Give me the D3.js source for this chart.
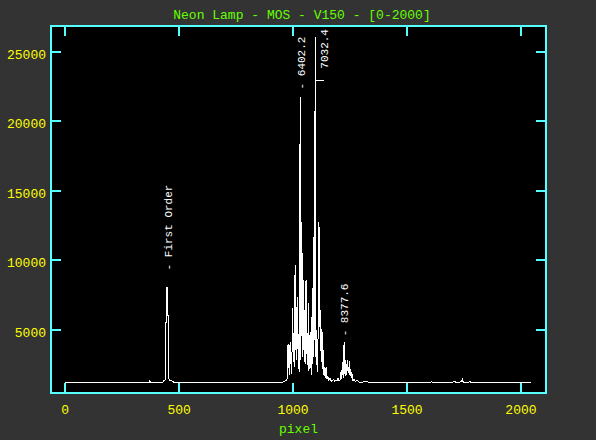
<!DOCTYPE html>
<html lang="en">
<head>
  <meta charset="utf-8" />
  <title>Neon Lamp - MOS - V150</title>
  <script src="https://cdn.jsdelivr.net/npm/d3@7"></script>
  <style>
body{
  margin: 0;
  background: #333333;
}
svg text{
  font-family: "Liberation Mono", "DejaVu Sans Mono", monospace;
}
  </style>
</head>
<body>
  <svg id="chart"></svg>
  <script>
  const title = 'Neon Lamp - MOS - V150 - [0-2000]';
  const xLabel = 'pixel';
  const xTicks = [0, 500, 1000, 1500, 2000];
  const yTicks = [5000, 10000, 15000, 20000, 25000];

  // extracted arc spectrum (pixel, counts)
  const pixels = [
    0, 370, 373, 377, 430, 436, 441, 443, 447, 448, 451, 452, 456, 457, 462, 475, 480,
    950, 958, 968, 975, 978, 980, 982, 984, 986, 989, 991, 993, 995, 998,
    1001, 1003, 1005, 1008, 1011, 1013, 1015, 1017, 1020, 1022, 1024, 1026, 1029, 1031,
    1033, 1035, 1038, 1040, 1042, 1044, 1046, 1048, 1051, 1053, 1055, 1057, 1059, 1061,
    1064, 1066, 1070, 1072, 1075, 1077, 1079, 1082, 1084, 1086, 1088, 1090, 1092, 1095,
    1097, 1099, 1101, 1104, 1106, 1109, 1111, 1114, 1116, 1119, 1121, 1124, 1126, 1129,
    1131, 1134, 1136, 1140, 1143, 1147, 1150, 1155, 1158, 1165, 1170, 1180, 1185, 1195,
    1200, 1204, 1210, 1213, 1216, 1220, 1222, 1226, 1228, 1231, 1233, 1236, 1238, 1241,
    1243, 1246, 1248, 1251, 1253, 1256, 1259, 1262, 1265, 1270, 1275, 1285, 1290, 1300,
    1320, 1340, 1600, 1610, 1618, 1640, 1650, 1700, 1710, 1720, 1740, 1745, 1748, 1760,
    1780, 1785, 2045
  ];
  const counts = [
    1150, 1150, 1260, 1150, 1160, 1300, 1350, 5500, 5500, 8000, 8000, 6000, 6000, 1400, 1300, 1250, 1150,
    1150, 1180, 1280, 1300, 1900, 3900, 2200, 3700, 1700, 4070, 2500, 3000, 1800, 3600,
    6490, 2600, 4200, 2300, 9585, 3500, 5150, 2800, 7300, 3600, 4500, 2100, 5400, 1900,
    21690, 2800, 12700, 4500, 10500, 3000, 8500, 3500, 6000, 2600, 7200, 2500, 8500, 3200,
    4690, 2400, 6850, 2000, 3800, 4800, 2200, 3500, 1700, 7930, 2500, 8025, 3000, 15340,
    4200, 25985, 3000, 4910, 2400, 3400, 1900, 12700, 5000, 12340, 3400, 6350, 2600, 4980,
    2100, 3470, 1700, 2270, 1500, 2270, 1400, 1600, 1300, 1450, 1250, 1350, 1250, 1300,
    1460, 1250, 1350, 2030, 1400, 2600, 1500, 4070, 1800, 2750, 1600, 2500, 1700, 2750,
    2000, 2300, 1700, 2700, 1600, 2000, 1500, 1750, 1300, 1400, 1250, 1300, 1200, 1150,
    1250, 1150, 1150, 1200, 1150, 1180, 1150, 1150, 1230, 1150, 1200, 1380, 1200, 1150,
    1200, 1150, 1150
  ];

  // line identifications
  const lineLabels = ['- First Order', '- 6402.2', '7032.4', '- 8377.6'];
  const linePixels = [455, 1036, 1140, 1226];
  const lineLevels = [9220, 22240, 23730, 4475];
  // leader from the 7032.4 peak over to its label
  const leaderPixels = [1099, 1140];
  const leaderLevel = 22900;

  var width = 596, height = 440;
  var frame = {left: 51, right: 546, top: 26, bottom: 393};
  var cyan = '#55ffff', yellow = '#ffff00', green = '#66ff00';

  var svg = d3.select('#chart')
      .attr('width', width)
      .attr('height', height);

  var x = d3.scaleLinear().domain([-60, 2112]).range([frame.left, frame.right]);
  var y = d3.scaleLinear().domain([400, 26800]).range([frame.bottom, frame.top]);

  svg.append('rect')
      .attr('x', frame.left)
      .attr('y', frame.top)
      .attr('width', frame.right - frame.left)
      .attr('height', frame.bottom - frame.top)
      .attr('fill', '#000');

  var spectrum = pixels.map((p, i) => [p, counts[i]]);

  svg.append('path')
      .datum(spectrum)
      .attr('fill', 'none')
      .attr('stroke', '#fff')
      .attr('stroke-width', 1)
      .attr('shape-rendering', 'crispEdges')
      .attr('d', d3.line().x(d => x(d[0])).y(d => y(d[1])));

  function styleAxis(g){
    g.select('.domain').remove();
    g.selectAll('.tick line')
        .attr('stroke', cyan)
        .attr('stroke-width', 2)
        .attr('shape-rendering', 'crispEdges');
    g.selectAll('.tick text')
        .attr('fill', yellow)
        .attr('font-size', 13)
        .attr('font-family', null);
    g.attr('font-family', null).attr('font-size', null);
  }

  svg.append('g')
      .attr('transform', `translate(0,${frame.bottom})`)
      .call(d3.axisBottom(x).tickValues(xTicks).tickSize(-10).tickPadding(12).tickFormat(d3.format('d')))
      .call(styleAxis);

  svg.append('g')
      .attr('transform', `translate(0,${frame.top})`)
      .call(d3.axisTop(x).tickValues(xTicks).tickSize(-10).tickFormat(''))
      .call(styleAxis);

  svg.append('g')
      .attr('transform', `translate(${frame.left},0)`)
      .call(d3.axisLeft(y).tickValues(yTicks).tickSize(-10).tickPadding(5).tickFormat(d3.format('d')))
      .call(styleAxis)
    .selectAll('.tick text')
      .attr('dy', '0.55em');

  svg.append('g')
      .attr('transform', `translate(${frame.right},0)`)
      .call(d3.axisRight(y).tickValues(yTicks).tickSize(-10).tickFormat(''))
      .call(styleAxis);

  svg.append('rect')
      .attr('x', frame.left)
      .attr('y', frame.top)
      .attr('width', frame.right - frame.left)
      .attr('height', frame.bottom - frame.top)
      .attr('fill', 'none')
      .attr('stroke', cyan)
      .attr('stroke-width', 2);

  svg.append('g')
    .selectAll('text')
    .data(lineLabels)
    .enter().append('text')
      .attr('transform', (d, i) => `translate(${x(linePixels[i])},${y(lineLevels[i])}) rotate(-90)`)
      .attr('dy', '0.35em')
      .attr('fill', '#fff')
      .attr('font-size', 11)
      .text(d => d);

  svg.append('path')
      .attr('fill', 'none')
      .attr('stroke', '#fff')
      .attr('stroke-width', 1)
      .attr('shape-rendering', 'crispEdges')
      .attr('d', d3.line()(leaderPixels.map(p => [x(p), y(leaderLevel)])));

  svg.append('text')
      .attr('x', 302)
      .attr('y', 19)
      .attr('text-anchor', 'middle')
      .attr('fill', green)
      .attr('font-size', 13)
      .text(title);

  svg.append('text')
      .attr('x', (frame.left + frame.right) / 2)
      .attr('y', 433)
      .attr('text-anchor', 'middle')
      .attr('fill', green)
      .attr('font-size', 13)
      .text(xLabel);
  </script>
</body>
</html>
